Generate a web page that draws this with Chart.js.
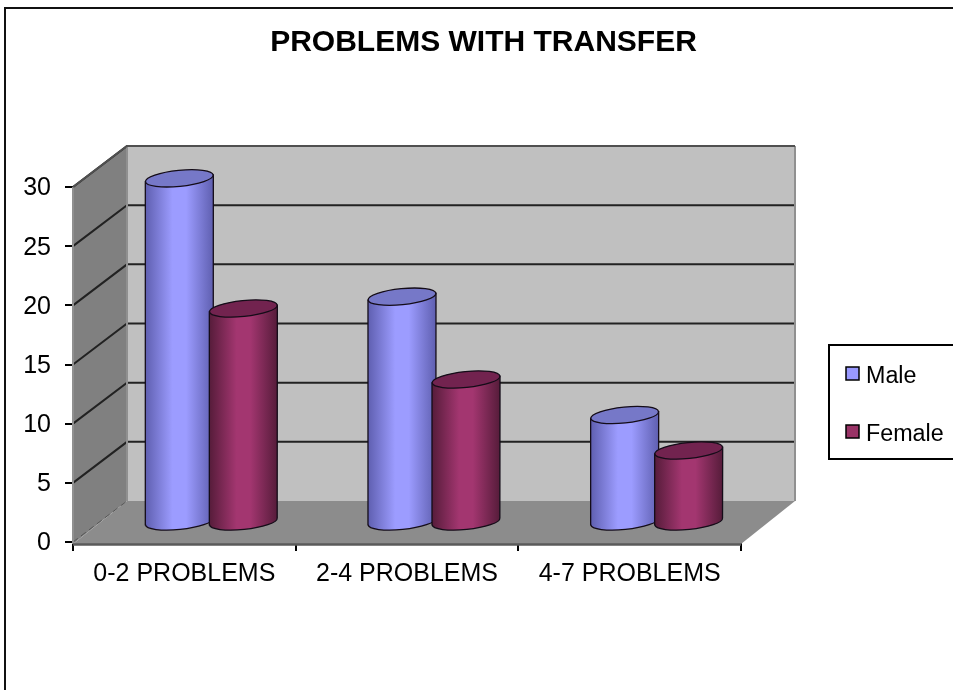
<!DOCTYPE html>
<html>
<head>
<meta charset="utf-8">
<title>Problems with transfer</title>
<script src="https://cdn.jsdelivr.net/npm/chart.js@4"></script>
<style>
    html, body { margin: 0; padding: 0; background: #fff; }
    canvas { display: block; }
</style>
</head>
<body>
<canvas id="chart" width="953" height="690"></canvas>
<script>
const categories = ['0-2 PROBLEMS', '2-4 PROBLEMS', '4-7 PROBLEMS'];
const maleValues = [29, 19, 9];
const femaleValues = [18, 12, 6];
const seriesNames = ['Male', 'Female'];
const FONT = '"Liberation Sans", Arial, sans-serif';

// how far the back wall sits behind the front axes
const DEPTH_X = 54;
const DEPTH_Y = -41;

const barColors = [
    { edge: '#5f5fb0', mid: '#9c9cff', cap: '#7678c8', swatch: '#9999ff' },
    { edge: '#561c3a', mid: '#a33670', cap: '#72234f', swatch: '#993366' }
];

function drawWalls(chart) {
    const { ctx, chartArea: area, scales } = chart;
    const y0 = scales.y.getPixelForValue(0);
    const yTop = scales.y.getPixelForValue(30);
    const l = area.left, r = area.right;

    ctx.save();
    // back wall
    ctx.fillStyle = '#c0c0c0';
    ctx.fillRect(l + DEPTH_X, yTop + DEPTH_Y, r - l, y0 - yTop);
    // side wall
    ctx.fillStyle = '#808080';
    ctx.beginPath();
    ctx.moveTo(l, y0 + 2);
    ctx.lineTo(l, yTop);
    ctx.lineTo(l + DEPTH_X, yTop + DEPTH_Y);
    ctx.lineTo(l + DEPTH_X, y0 + DEPTH_Y);
    ctx.closePath();
    ctx.fill();
    // floor
    ctx.fillStyle = '#8c8c8c';
    ctx.beginPath();
    ctx.moveTo(l, y0 + 2);
    ctx.lineTo(l + DEPTH_X, y0 + DEPTH_Y);
    ctx.lineTo(r + DEPTH_X, y0 + DEPTH_Y);
    ctx.lineTo(r, y0 + 2);
    ctx.closePath();
    ctx.fill();

    // gridlines, skipping 0 which is the floor
    ctx.strokeStyle = '#222';
    ctx.lineWidth = 2;
    scales.y.ticks.forEach(t => {
        if (t.value === 0) return;
        const y = scales.y.getPixelForValue(t.value);
        ctx.beginPath();
        ctx.moveTo(l, y);
        ctx.lineTo(l + DEPTH_X, y + DEPTH_Y);
        ctx.lineTo(r + DEPTH_X, y + DEPTH_Y);
        ctx.stroke();
    });

    // dashed corner between side wall and floor
    ctx.strokeStyle = '#555';
    ctx.lineWidth = 1;
    ctx.setLineDash([6, 4]);
    ctx.beginPath();
    ctx.moveTo(l, y0);
    ctx.lineTo(l + DEPTH_X, y0 + DEPTH_Y);
    ctx.stroke();
    ctx.setLineDash([]);

    // wall edges
    ctx.strokeStyle = '#909090';
    ctx.lineWidth = 2;
    ctx.beginPath();
    ctx.moveTo(l + DEPTH_X, yTop + DEPTH_Y);
    ctx.lineTo(l + DEPTH_X, y0 + DEPTH_Y);
    ctx.moveTo(r + DEPTH_X, yTop + DEPTH_Y);
    ctx.lineTo(r + DEPTH_X, y0 + DEPTH_Y);
    ctx.moveTo(l, yTop);
    ctx.lineTo(l, y0 + 2);
    ctx.stroke();
    ctx.strokeStyle = '#505050';
    ctx.beginPath();
    ctx.moveTo(l, yTop);
    ctx.lineTo(l + DEPTH_X, yTop + DEPTH_Y);
    ctx.lineTo(r + DEPTH_X, yTop + DEPTH_Y);
    ctx.stroke();
    ctx.lineWidth = 2.5;
    ctx.strokeStyle = '#5a5a5a';
    ctx.beginPath();
    ctx.moveTo(l, y0 + 2.5);
    ctx.lineTo(r, y0 + 2.5);
    ctx.stroke();
    ctx.restore();
}

function drawCylinder(ctx, bar, colors) {
    const rx = bar.width / 2;
    const ry = 8;
    const tilt = -0.1;
    const rise = rx * Math.sin(-tilt);
    const x = bar.x + DEPTH_X / 2;
    const top = bar.y + DEPTH_Y / 2;
    const base = bar.base + DEPTH_Y / 2 + 1;

    const grad = ctx.createLinearGradient(x - rx, 0, x + rx, 0);
    grad.addColorStop(0, colors.edge);
    grad.addColorStop(0.4, colors.mid);
    grad.addColorStop(0.6, colors.mid);
    grad.addColorStop(1, colors.edge);

    ctx.save();
    ctx.strokeStyle = '#140c18';
    ctx.lineWidth = 1.3;

    ctx.beginPath();
    ctx.moveTo(x - rx, top + rise);
    ctx.lineTo(x - rx, base + rise);
    ctx.ellipse(x, base, rx, ry, tilt, Math.PI, 0, true);
    ctx.lineTo(x + rx, top - rise);
    ctx.closePath();
    ctx.fillStyle = grad;
    ctx.fill();
    ctx.stroke();

    ctx.beginPath();
    ctx.ellipse(x, top, rx, ry, tilt, 0, Math.PI * 2);
    ctx.fillStyle = colors.cap;
    ctx.fill();
    ctx.stroke();
    ctx.restore();
}

function drawLegend(ctx) {
    ctx.save();
    ctx.strokeStyle = '#000';
    ctx.lineWidth = 2;
    ctx.beginPath();
    ctx.moveTo(953, 345);
    ctx.lineTo(829, 345);
    ctx.lineTo(829, 459);
    ctx.lineTo(953, 459);
    ctx.stroke();

    ctx.font = '23.3px ' + FONT;
    ctx.textBaseline = 'middle';
    seriesNames.forEach((name, i) => {
        const y = 367 + i * 58;
        ctx.fillStyle = barColors[i].swatch;
        ctx.fillRect(846, y, 13, 13);
        ctx.lineWidth = 1.5;
        ctx.strokeRect(846, y, 13, 13);
        ctx.fillStyle = '#000';
        ctx.fillText(name, 866, y + 10);
    });
    ctx.restore();
}

function drawFrame(ctx) {
    ctx.save();
    ctx.strokeStyle = '#111';
    ctx.lineWidth = 2;
    ctx.beginPath();
    ctx.moveTo(5, 690);
    ctx.lineTo(5, 8);
    ctx.lineTo(953, 8);
    ctx.stroke();
    ctx.restore();
}

const cylinderPlugin = {
    id: 'cylinders',
    afterLayout(chart) {
        // title is centred on the whole frame, not the plot
        chart.titleBlock.left = 14;
        chart.titleBlock.right = 953;
    },
    beforeDatasetsDraw(chart) {
        drawFrame(chart.ctx);
        drawWalls(chart);
    },
    beforeDatasetDraw() {
        return false; // flat bars replaced with the cylinders below
    },
    afterDatasetsDraw(chart) {
        // Male first so that Female overlaps it
        chart.data.datasets.forEach((ds, i) => {
            chart.getDatasetMeta(i).data.forEach(bar => {
                drawCylinder(chart.ctx, bar, barColors[i]);
            });
        });
        drawLegend(chart.ctx);
    }
};

new Chart(document.getElementById('chart'), {
    type: 'bar',
    data: {
        labels: categories,
        datasets: [
            { label: seriesNames[0], data: maleValues, backgroundColor: barColors[0].swatch },
            { label: seriesNames[1], data: femaleValues, backgroundColor: barColors[1].swatch }
        ]
    },
    options: {
        responsive: false,
        animation: false,
        layout: { padding: { right: 212 } },
        categoryPercentage: 0.575,
        barPercentage: 1.0625,
        plugins: {
            legend: { display: false },
            tooltip: { enabled: false },
            title: {
                display: true,
                text: 'PROBLEMS WITH TRANSFER',
                color: '#000',
                font: { family: FONT, size: 30, weight: 'bold' },
                padding: { top: 25, bottom: 126 }
            }
        },
        scales: {
            x: {
                border: { display: false },
                grid: { offset: true, drawOnChartArea: false, color: '#000', tickLength: 9, lineWidth: 2 },
                ticks: { color: '#000', font: { family: FONT, size: 25 }, padding: 8, maxRotation: 0 },
                afterFit(scale) { scale.height = 148; }
            },
            y: {
                min: 0,
                max: 30,
                border: { display: false },
                grid: { drawOnChartArea: false, color: '#000', tickLength: 8, lineWidth: 2 },
                ticks: { stepSize: 5, color: '#000', font: { family: FONT, size: 25 }, padding: 14, labelOffset: 1.5 },
                afterFit(scale) { scale.width = 73; }
            }
        }
    },
    plugins: [cylinderPlugin]
});
</script>
</body>
</html>
